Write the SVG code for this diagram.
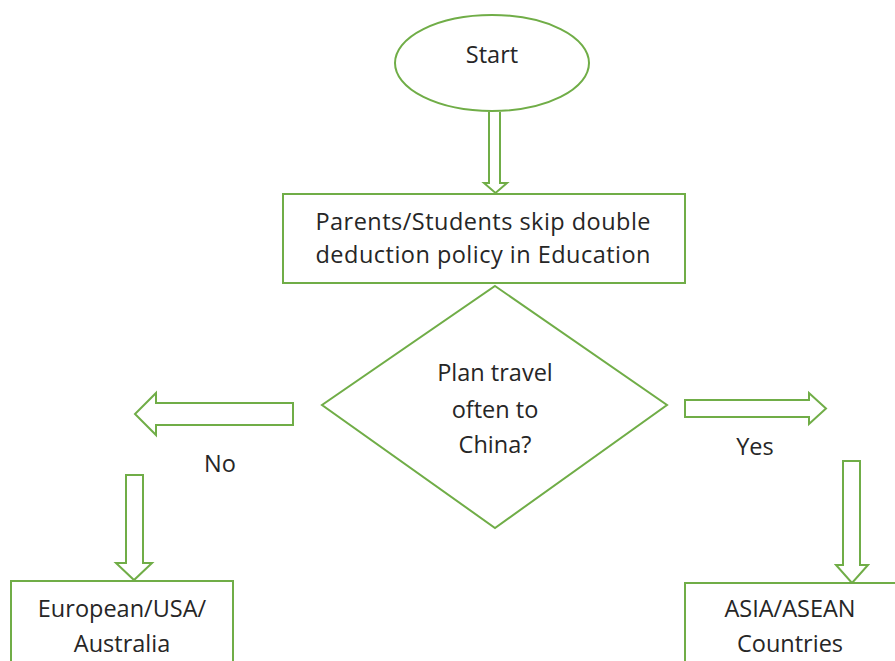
<svg xmlns="http://www.w3.org/2000/svg" width="895" height="661" viewBox="0 0 895 661">
<style>
.s{fill:#fff;stroke:#70ad47;stroke-width:2}
.a{fill:#fff;stroke:#70ad47;stroke-width:2;stroke-linejoin:miter}
text{font-family:"Open Sans","Liberation Sans",sans-serif;font-size:23.5px;fill:#262626;text-anchor:middle}
</style>
<rect width="895" height="661" fill="#fff"/>
<g id="connectors">
<path class="a" d="M489,112 V183 H484 L495.5,193 L507,183 H500 V112"/>
<path class="a" d="M293,403 H156 V393 L135,414 L156,435 V425 H293 Z"/>
<path class="a" d="M685,400 H809 V393 L826,408.5 L809,424 V417 H685 Z"/>
<path class="a" d="M126,475 H143 V563 H152 L134,580 L116,563 H126 Z"/>
<path class="a" d="M843,461 H860 V565 H868 L852,583 L836,565 H843 Z"/>
<text x="220" y="472">No</text>
<text x="755" y="455">Yes</text>
</g>
<g id="start">
<ellipse class="s" cx="492" cy="63" rx="97" ry="48"/>
<text x="492" y="63">Start</text>
</g>
<g id="process">
<rect class="s" x="283" y="194" width="402" height="89"/>
<text x="483" y="230" textLength="335">Parents/Students skip double</text>
<text x="483" y="263" textLength="335">deduction policy in Education</text>
</g>
<g id="decision">
<polygon class="s" points="495,286 667,405 495,528 322,405"/>
<text x="495" y="381">Plan travel</text>
<text x="495" y="418">often to</text>
<text x="495" y="453">China?</text>
</g>
<g id="no-result">
<rect class="s" x="11" y="581" width="222" height="90"/>
<text x="122" y="617">European/USA/</text>
<text x="122" y="652">Australia</text>
</g>
<g id="yes-result">
<rect class="s" x="685" y="583" width="220" height="90"/>
<text x="790" y="617">ASIA/ASEAN</text>
<text x="790" y="652">Countries</text>
</g>
</svg>
